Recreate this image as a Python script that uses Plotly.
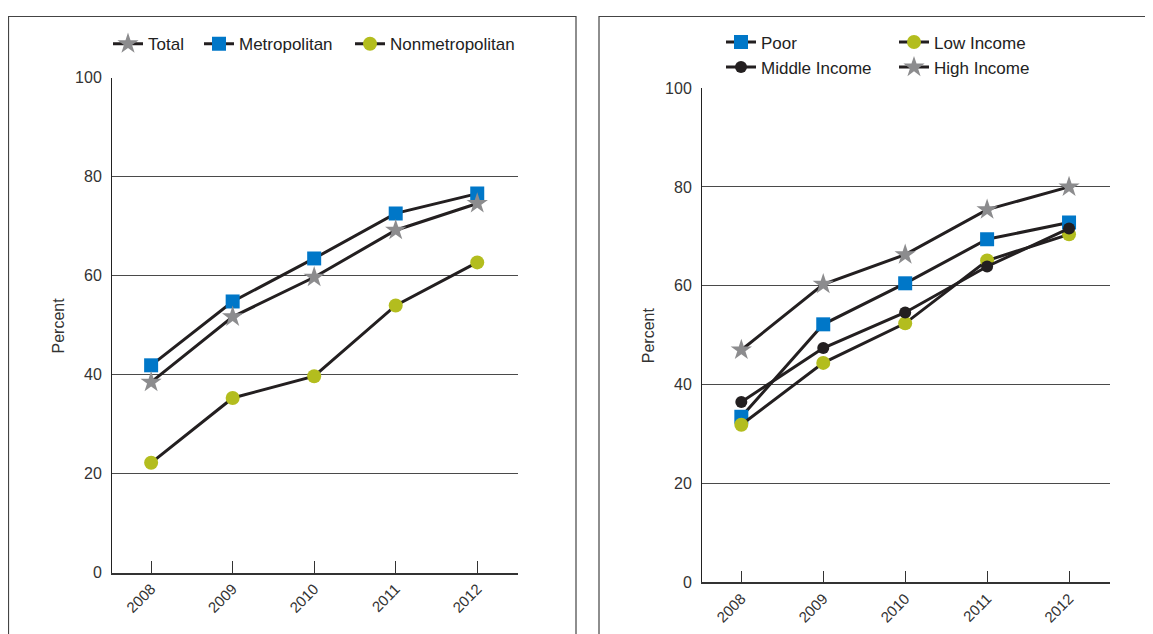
import plotly.graph_objects as go

W, H = 1153, 634

years = [2008, 2009, 2010, 2011, 2012]
year_labels = ["2008", "2009", "2010", "2011", "2012"]

# left panel: residence location
total = [38.5, 51.7, 59.7, 69.2, 74.6]
metro = [41.9, 54.8, 63.5, 72.6, 76.6]
nonmetro = [22.2, 35.3, 39.7, 54.0, 62.7]

# right panel: family income
poor = [33.5, 52.2, 60.5, 69.4, 72.8]
low_inc = [31.9, 44.4, 52.4, 65.1, 70.4]
middle_inc = [36.5, 47.4, 54.6, 63.9, 71.6]
high_inc = [47.0, 60.3, 66.3, 75.4, 80.0]

y_ticks = [0, 20, 40, 60, 80, 100]

LINE = "#231f20"
GREY = "#8c8c8e"
BLUE = "#0077c8"
GREEN = "#b3bd1e"
FONT = "Liberation Sans"


def px(x):
    return x / W


def py(y):
    return 1 - y / H


def series(name, x, y, symbol, color, size, xa, ya, legend):
    return go.Scatter(
        x=x, y=y, name=name, mode="lines+markers",
        line=dict(color=LINE, width=3),
        marker=dict(symbol=symbol, color=color, size=size, line=dict(width=0)),
        xaxis=xa, yaxis=ya, legend=legend,
    )


traces = [
    series("Metropolitan", years, metro, "square", BLUE, 14, "x", "y", "legend4"),
    series("Nonmetropolitan", years, nonmetro, "circle", GREEN, 14, "x", "y", "legend5"),
    series("Total", years, total, "star", GREY, 16, "x", "y", "legend"),
    series("Poor", years, poor, "square", BLUE, 14, "x2", "y2", "legend2"),
    series("Low Income", years, low_inc, "circle", GREEN, 14, "x2", "y2", "legend3"),
    series("Middle Income", years, middle_inc, "circle", LINE, 12, "x2", "y2", "legend2"),
    series("High Income", years, high_inc, "star", GREY, 16, "x2", "y2", "legend3"),
]

fig = go.Figure(data=traces)

xcommon = dict(
    range=[2007.52, 2012.5], tickvals=years, ticktext=year_labels,
    tickangle=-45, ticks="inside", ticklen=12, tickcolor="#333",
    showline=True, linecolor="#333", linewidth=1.5, showgrid=False,
    zeroline=False, tickfont=dict(size=15, color="#333", family=FONT),
    fixedrange=True,
)
ycommon = dict(
    range=[0, 100], tickvals=y_ticks, showline=True, linecolor="#222",
    linewidth=1, showgrid=True, gridcolor="#4a4a4a", gridwidth=1.1,
    zeroline=False, ticks="", ticklabelstandoff=6,
    tickfont=dict(size=16, color="#333", family=FONT), fixedrange=True,
)

legend_common = dict(
    bgcolor="rgba(0,0,0,0)", font=dict(size=17, color="#222", family=FONT),
    yanchor="middle", xanchor="left", itemclick=False, itemdoubleclick=False,
)

fig.update_layout(
    width=W, height=H,
    margin=dict(l=0, r=0, t=0, b=0),
    paper_bgcolor="white", plot_bgcolor="white",
    font=dict(family=FONT, color="#333"),
    xaxis=dict(domain=[px(104), px(510)], anchor="y", **xcommon),
    yaxis=dict(domain=[py(572), py(63.5)], anchor="x", **ycommon),
    xaxis2=dict(domain=[px(694), px(1102)], anchor="y2", **xcommon),
    yaxis2=dict(domain=[py(582), py(74)], anchor="x2", **ycommon),
    legend=dict(orientation="h", x=px(100), y=py(29), **legend_common),
    legend4=dict(orientation="h", x=px(191), y=py(29), **legend_common),
    legend5=dict(orientation="h", x=px(342), y=py(29), **legend_common),
    legend2=dict(orientation="v", x=px(713), y=py(40), **legend_common),
    legend3=dict(orientation="v", x=px(886), y=py(40), **legend_common),
    showlegend=True,
)

# panel frames
fig.add_shape(type="rect", xref="paper", yref="paper",
              x0=px(0.5), x1=px(568), y0=py(660), y1=py(0.5),
              line=dict(color="#444", width=1.2))
fig.add_shape(type="rect", xref="paper", yref="paper",
              x0=px(591), x1=px(1175), y0=py(660), y1=py(0.5),
              line=dict(color="#444", width=1.2))

for xp, yp in [(50, 318), (640, 328)]:
    fig.add_annotation(text="Percent", xref="paper", yref="paper",
                       x=px(xp), y=py(yp), xanchor="center", yanchor="middle",
                       showarrow=False, textangle=-90,
                       font=dict(size=16, color="#333", family=FONT))

fig.write_html("out.html")
